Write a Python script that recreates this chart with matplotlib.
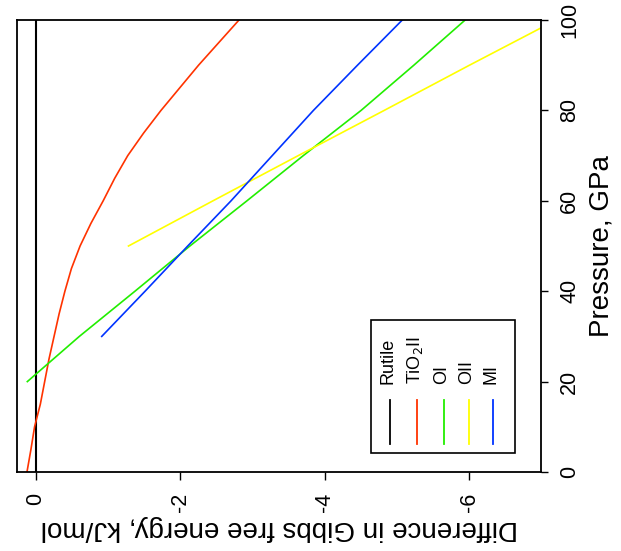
import matplotlib
matplotlib.use("Agg")
import matplotlib.pyplot as plt
from matplotlib.patches import Rectangle

plt.rcParams["font.family"] = ["Liberation Sans", "DejaVu Sans"]

# -*- data: pressure (GPa) vs. Gibbs energy difference (kJ/mol)
p_rutile = [0, 100]
g_rutile = [0.0, 0.0]

p_tio2 = [0, 5, 10, 15, 20, 25, 30, 35, 40, 45, 50, 55, 60, 65, 70, 75, 80, 85, 90, 95, 100]
g_tio2 = [0.125, 0.07, 0.02, -0.06, -0.12, -0.18, -0.25, -0.32, -0.40, -0.49, -0.61,
          -0.76, -0.93, -1.09, -1.27, -1.49, -1.73, -1.99, -2.25, -2.53, -2.81]

p_oi = [20, 30, 40, 50, 60, 70, 80, 90, 100]
g_oi = [0.12, -0.60, -1.37, -2.13, -2.92, -3.70, -4.50, -5.23, -5.94]

p_oii = [50, 60, 70, 80, 90, 100]
g_oii = [-1.28, -2.45, -3.63, -4.82, -6.00, -7.20]

p_mi = [30, 40, 50, 60, 70, 80, 90, 100]
g_mi = [-0.91, -1.51, -2.10, -2.70, -3.27, -3.84, -4.45, -5.07]

names = ["Rutile", "TiO$_2$II", "OI", "OII", "MI"]
colors = ["black", "#ff3300", "#22ee00", "#ffff00", "#0033ff"]
series = [(g_rutile, p_rutile), (g_tio2, p_tio2), (g_oi, p_oi),
          (g_oii, p_oii), (g_mi, p_mi)]

W, H = 621, 551
fig = plt.figure(figsize=(W / 100, H / 100), dpi=100)
ax = fig.add_axes([17 / W, (H - 472) / H, (541 - 17) / W, (472 - 20) / H])

for (g, p), c, n in zip(series, colors, names):
    lw = 1.5 if c == "black" else 1.2
    ax.plot(g, p, color=c, lw=lw)

ax.set_xlim(0.263, -6.99)
ax.set_ylim(0, 100)
ax.set_xticks([0, -2, -4, -6])
ax.set_xticklabels(["0", "-2", "-4", "-6"], rotation=90, fontsize=15.5)
ax.set_yticks([0, 20, 40, 60, 80, 100])
ax.yaxis.tick_right()
ax.yaxis.set_label_position("right")
for lab in ax.get_yticklabels():
    lab.set_rotation(90)
    lab.set_va("center")
    lab.set_fontsize(15.5)
ax.tick_params(axis="x", length=6, width=1, pad=9)
ax.tick_params(axis="y", length=5, width=1, pad=8)
for s in ax.spines.values():
    s.set_linewidth(1.3)

ax.set_xlabel("Difference in Gibbs free energy, kJ/mol", rotation=180, fontsize=20, labelpad=2)
ax.set_ylabel("Pressure, GPa", rotation=90, fontsize=20, labelpad=6)

# -*- legend (rotated, drawn by hand)
ax.add_patch(Rectangle((0.676, 0.042), 0.274, 0.294, transform=ax.transAxes,
                       fill=False, lw=1.2, color="black"))
xs = [0.712, 0.763, 0.815, 0.863, 0.908]
for x, c, n in zip(xs, colors, names):
    ax.plot([x, x], [0.062, 0.159], color=c, lw=1.3, transform=ax.transAxes)
    ax.text(x - 0.004, 0.195, n, rotation=90, ha="center", va="bottom", fontsize=13,
            transform=ax.transAxes)

fig.savefig("out.png", dpi=100)
